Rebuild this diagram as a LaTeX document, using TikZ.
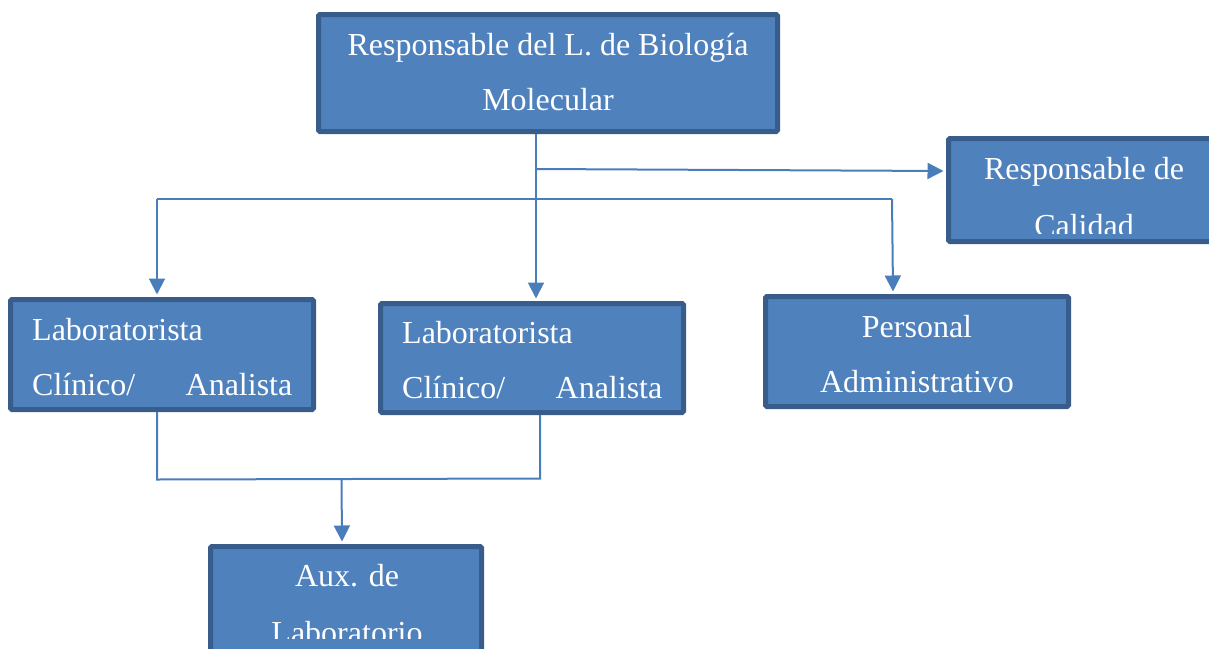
\documentclass[tikz,border=0pt]{standalone}
\usepackage{fontspec}
\setmainfont{Liberation Serif}
\usetikzlibrary{arrows.meta,calc}
\definecolor{boxfill}{HTML}{4F81BD}
\definecolor{boxline}{HTML}{385D8A}
\definecolor{connc}{HTML}{4A7EBB}
\begin{document}
\begin{tikzpicture}[x=1pt,y=-1pt,
 box/.style={draw=boxline, fill=boxfill, line width=5pt, rounded corners=1.5pt, inner sep=0pt},
 lbl/.style={text=white, font=\fontsize{32}{38}\selectfont, inner sep=0pt},
 conn/.style={draw=connc, line width=2pt},
 arr/.style={conn, -{Triangle[length=16pt,width=16pt]}}]
\useasboundingbox (0,0) rectangle (1209,648);
\clip (0,0) rectangle (1209,648);
% boxes
\node[box, minimum width=459pt, minimum height=117pt] (top) at (548,73) {};
\node[box, minimum width=264pt, minimum height=103pt] (cal) at (1080.5,190) {};
\node[box, minimum width=303pt, minimum height=110pt] (lab1) at (162,354.5) {};
\node[box, minimum width=303pt, minimum height=109pt] (lab2) at (532,358) {};
\node[box, minimum width=303pt, minimum height=110pt] (pers) at (917,351.5) {};
\node[box, minimum width=271pt, minimum height=111pt] (aux) at (346,602) {};
% texts
\node[lbl, anchor=base] (t1) at (548,55) {Responsable del L. de Biología};
\node[lbl, anchor=base] (t2) at (548,110) {Molecular};
\node[lbl, anchor=base] (c1) at (1084,179) {Responsable de};
\begin{scope}
\clip (940,140) rectangle (1209,233);
\node[lbl, anchor=base] (c2) at (1084,236) {Calidad};
\end{scope}
\node[lbl, anchor=base west] (l1a) at (32,340.5) {Laboratorista};
\node[lbl, anchor=base west] (l1b) at (32,395.5) {Clínico/};
\node[lbl, anchor=base east] (l1c) at (292.5,395.5) {Analista};
\node[lbl, anchor=base west] (l2a) at (402,343.5) {Laboratorista};
\node[lbl, anchor=base west] (l2b) at (402,398.5) {Clínico/};
\node[lbl, anchor=base east] (l2c) at (662.5,398.5) {Analista};
\node[lbl, anchor=base] (p1) at (917,337.5) {Personal};
\node[lbl, anchor=base] (p2) at (917,392.5) {Administrativo};
\node[lbl, anchor=base] (a1) at (347,586.5) {Aux. de};
\begin{scope}
\clip (210,560) rectangle (484,638);
\node[lbl, anchor=base] (a2) at (347,643) {Laboratorio};
\end{scope}
% connector junctions
\coordinate (jm) at (536,199);
\coordinate (jl) at (157,199);
\coordinate (jr) at (892,199);
\coordinate (jc) at (536,169);
\coordinate (bl) at (157,479.5);
\coordinate (br) at (540,478.5);
\coordinate (ba) at (341.5,479);
% connectors
\draw[arr] (top.south -| jm) -- ($(jm |- lab2.north)+(0,-2.5)$);
\draw[arr] (jc) -- ($(cal.west)+(-2.5,-19)$);
\draw[conn] (jl) -- (jr);
\draw[arr] (jl) -- ($(jl |- lab1.north)+(0,-2.5)$);
\draw[arr] (jr) -- ($(jr |- pers.north)+(1,-2.5)$);
\draw[conn] (lab1.south -| bl) -- (bl) -- (br) -- (lab2.south -| br);
\draw[arr] (ba) -- ($(ba |- aux.north)+(0.5,-2.5)$);
\end{tikzpicture}
\end{document}
